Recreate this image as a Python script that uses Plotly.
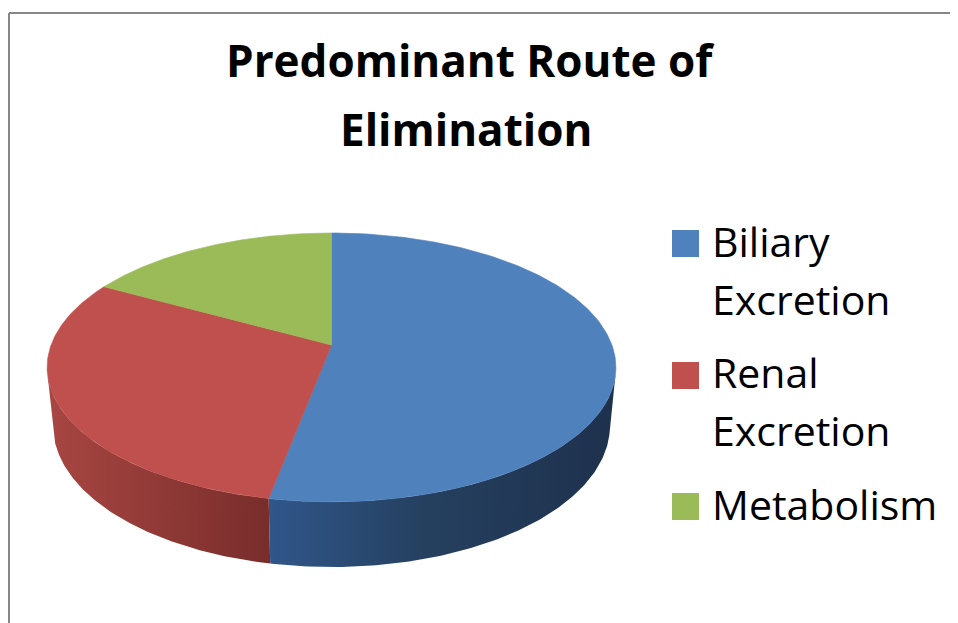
import numpy as np
import plotly.graph_objects as go

# ---- data ----
categories = ["Biliary Excretion", "Renal Excretion", "Metabolism"]
values = [53, 30, 17]
top_colors = ["#4F81BD", "#C0504D", "#9BBB59"]
side_scales = [
    [[0, "#30568A"], [0.45, "#25405F"], [1, "#1E314D"]],
    [[0, "#A84642"], [1, "#782D2B"]],
    [[0, "#7A9446"], [1, "#5E7236"]],
]
title_lines = ["Predominant Route of", "Elimination"]

# ---- page geometry (browser body has an 8px margin) ----
W, H = 958, 623
OFF = 8

# ---- 3D projection of the pie (pixel space) ----
CX, CY = 331.5, 345.0
F = 1489.0
SN, CS = 0.466, 0.885
D = 5.31
DEPTH = 0.2375


def proj(theta_deg, Y):
    t = np.radians(theta_deg)
    X = np.sin(t)
    Z = -np.cos(t)
    w = D - (Y * SN + Z * CS)
    return CX + F * X / w, CY + F * (Z * SN - Y * CS) / w


fracs = np.array(values, float) / np.sum(values)
ends = np.cumsum(fracs) * 360.0
starts = ends - fracs * 360.0

vis_lo = np.degrees(np.arccos(-1.0 / (D * CS)))
vis_hi = 360.0 - vis_lo

fig = go.Figure()

# side walls
for i in range(len(values)):
    a = max(starts[i], vis_lo)
    b = min(ends[i], vis_hi)
    if b <= a:
        continue
    th = np.linspace(a, b, 120)
    xt, yt = proj(th, 0.0)
    xb, yb = proj(th[::-1], -DEPTH)
    xs = np.concatenate([xt, xb, xt[:1]])
    ys = np.concatenate([yt, yb, yt[:1]])
    fig.add_trace(go.Scatter(
        x=xs, y=ys, mode="lines", fill="toself",
        fillgradient=dict(type="horizontal", colorscale=side_scales[i]),
        line=dict(width=0), hoverinfo="skip", showlegend=False))

# top faces
for i in range(len(values)):
    th = np.linspace(starts[i], ends[i], 200)
    xr, yr = proj(th, 0.0)
    xs = np.concatenate([[CX], xr, [CX]])
    ys = np.concatenate([[CY], yr, [CY]])
    fig.add_trace(go.Scatter(
        x=xs, y=ys, mode="lines", fill="toself", fillcolor=top_colors[i],
        line=dict(width=0.6, color=top_colors[i]), hoverinfo="skip",
        showlegend=False, name=categories[i]))

annotations = []
# title
tfs = 44
for txt, cxl, base in zip(title_lines, [470, 466], [77, 146]):
    annotations.append(dict(
        x=cxl, y=base - 0.388 * tfs, xref="x", yref="y", text="<b>%s</b>" % txt,
        showarrow=False, xanchor="center", yanchor="middle",
        font=dict(family="Open Sans", size=tfs, color="#000000")))

# legend
lfs = 41
shapes = []
sq_tops = [230, 362, 493]
first_base = [257, 388, 520]
line_gap = 58
for i, cat in enumerate(categories):
    shapes.append(dict(type="rect", xref="x", yref="y", x0=672, x1=699,
                       y0=sq_tops[i], y1=sq_tops[i] + 27,
                       fillcolor=top_colors[i], line=dict(width=0)))
    parts = cat.split(" ")
    for k, p in enumerate(parts):
        base = first_base[i] + k * line_gap
        annotations.append(dict(
            x=710, y=base - 0.388 * lfs, xref="x", yref="y", text=p,
            showarrow=False, xanchor="left", yanchor="middle",
            font=dict(family="Open Sans", size=lfs, color="#000000")))

# chart border
shapes.append(dict(type="line", xref="x", yref="y", x0=9, x1=W + 5, y0=13, y1=13,
                   line=dict(color="#878787", width=2)))
shapes.append(dict(type="line", xref="x", yref="y", x0=9, x1=9, y0=13, y1=H + 5,
                   line=dict(color="#878787", width=2)))

fig.update_layout(
    width=W - OFF, height=H - OFF,
    margin=dict(l=0, r=0, t=0, b=0),
    paper_bgcolor="white", plot_bgcolor="white",
    xaxis=dict(range=[OFF, W], visible=False, fixedrange=True),
    yaxis=dict(range=[H, OFF], visible=False, fixedrange=True),
    annotations=annotations, shapes=shapes, showlegend=False,
)

fig.write_html("out.html")
